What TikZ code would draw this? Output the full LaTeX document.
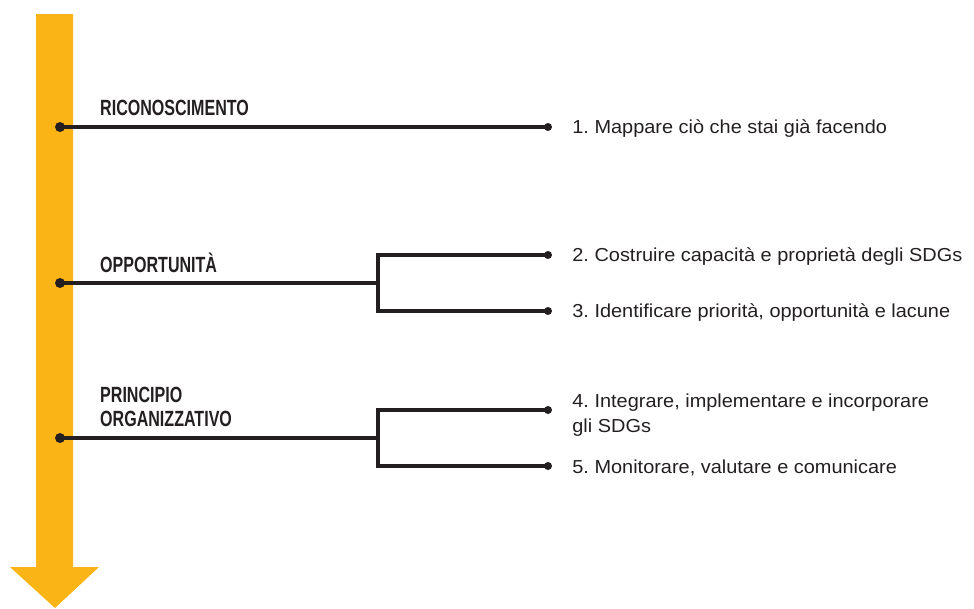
\documentclass[tikz,border=0pt]{standalone}
\usepackage{fontspec}
\setmainfont{Liberation Sans}
\newfontfamily\headfont[FakeStretch=0.73]{Liberation Sans}
\newfontfamily\stepfont[FakeStretch=1.06]{Liberation Sans}
\usepackage{tikz}
\usetikzlibrary{positioning}
\definecolor{arrowyellow}{HTML}{FBB415}
\definecolor{inkdark}{HTML}{231F20}
\frenchspacing
\tikzset{
	leftdot/.style={circle, fill=inkdark, inner sep=0pt, minimum size=10pt},
	rightdot/.style={circle, fill=inkdark, inner sep=0pt, minimum size=8pt},
	link/.style={draw=inkdark, line width=3.5pt},
	heading/.style={%
		anchor=south west, inner sep=0pt, align=left,
		text=inkdark,
		font=\headfont\bfseries\fontsize{22}{24.6}\selectfont
	},
	step text/.style={%
		anchor=west, inner sep=0pt, align=left,
		text=inkdark, yshift=-2pt,
		font=\stepfont\fontsize{18.8}{24.4}\selectfont
	}
}

\begin{document}
\begin{tikzpicture}[x=1pt,y=-1pt]
		\useasboundingbox (0,0) rectangle (974,608);
		
		% big yellow arrow
		\fill[arrowyellow] (36,14) -- (73,14) -- (73,567) -- (99,567)
			-- (55,608) -- (10,567) -- (36,567) -- cycle;
		
		% dots on the arrow
		\node[leftdot] (ric) at (60,127) {};
		\node[leftdot] (opp) at (60,283) {};
		\node[leftdot] (org) at (60,438) {};
		
		% branch points
		\coordinate (oppfork) at (378,283);
		\coordinate (orgfork) at (378,438);
		
		% dots at the steps
		\node[rightdot] (s1) at (548,127) {};
		\node[rightdot] (s2) at (548,255) {};
		\node[rightdot] (s3) at (548,311) {};
		\node[rightdot] (s4) at (548,410) {};
		\node[rightdot] (s5) at (548,466) {};
		
		% headings
		\node[heading] (ricl) at (100,116) {RICONOSCIMENTO};
		\node[heading] (oppl) at (100,272.7) {OPPORTUNITÀ};
		\node[heading] (orgl) at (100,427.3) {PRINCIPIO\\ORGANIZZATIVO};
		
		% steps
		\node[step text, right=20pt of s1] (t1) {1. Mappare ciò che stai già facendo};
		\node[step text, right=20pt of s2] (t2) {2. Costruire capacità e proprietà degli SDGs};
		\node[step text, right=20pt of s3] (t3) {3. Identificare priorità, opportunità e lacune};
		\node[step text, right=20pt of s4, yshift=-3pt] (t4) {4. Integrare, implementare e incorporare\\gli SDGs};
		\node[step text, right=20pt of s5] (t5) {5. Monitorare, valutare e comunicare};
		
		% lines
		\draw[link] (ric.center) -- (s1.center);
		\draw[link] (opp.center) -- (oppfork);
		\draw[link] (s2.center) -| (oppfork) |- (s3.center);
		\draw[link] (org.center) -- (orgfork);
		\draw[link] (s4.center) -| (orgfork) |- (s5.center);
		
\end{tikzpicture}
\end{document}
